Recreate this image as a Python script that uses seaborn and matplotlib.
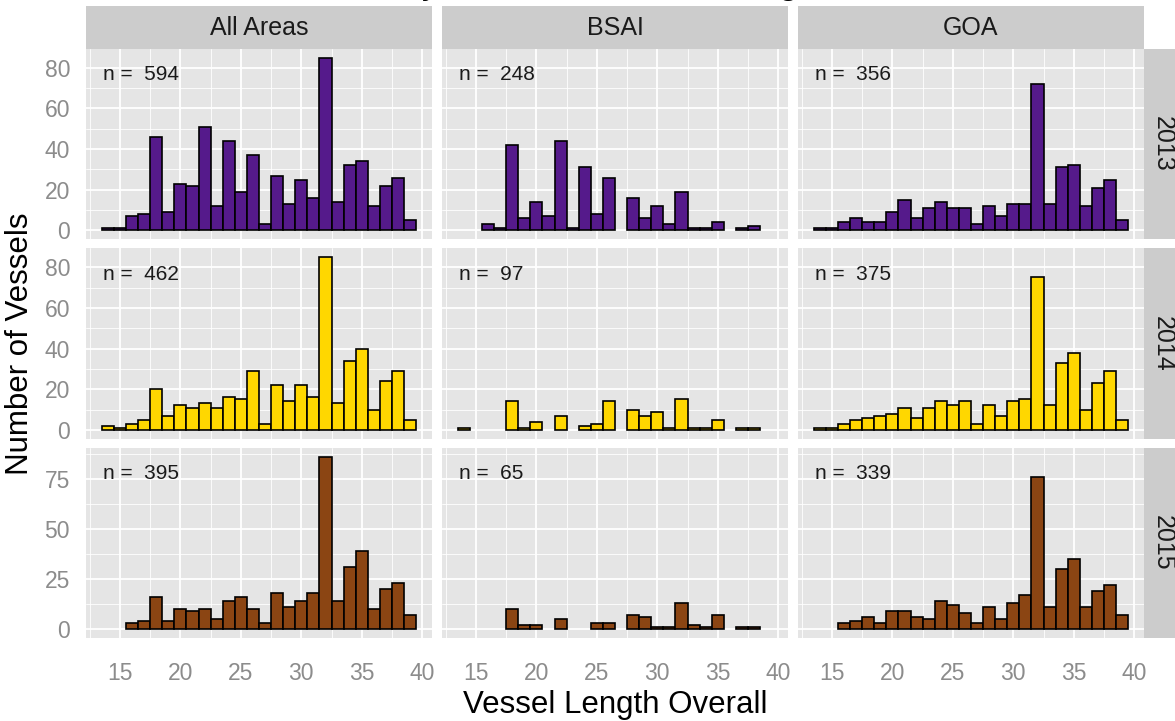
import matplotlib
matplotlib.use("Agg")
import matplotlib.pyplot as plt
from matplotlib.patches import Rectangle
from matplotlib.ticker import FixedLocator
import numpy as np
import pandas as pd
import seaborn as sns

# ---------------- data ----------------
lengths = list(range(14, 40))          # bin centres (ft), bin width 1
years = ["2013", "2014", "2015"]
areas = ["All Areas", "BSAI", "GOA"]

all_2013 = [1, 1, 7, 8, 46, 9, 23, 22, 51, 12, 44, 19, 37, 3, 27, 13, 25, 16, 85, 14, 32, 34, 12, 22, 26, 5]
bsai_2013 = [0, 0, 3, 1, 42, 6, 14, 7, 44, 1, 31, 8, 26, 0, 16, 6, 12, 3, 19, 1, 1, 4, 0, 1, 2, 0]
goa_2013 = [1, 1, 4, 6, 4, 4, 9, 15, 6, 11, 14, 11, 11, 3, 12, 7, 13, 13, 72, 13, 31, 32, 12, 21, 25, 5]

all_2014 = [2, 1, 3, 5, 20, 7, 12, 11, 13, 11, 16, 15, 29, 3, 22, 14, 22, 16, 85, 13, 34, 40, 10, 24, 29, 5]
bsai_2014 = [1, 0, 0, 0, 14, 1, 4, 0, 7, 0, 2, 3, 14, 0, 10, 7, 9, 1, 15, 1, 1, 5, 0, 1, 1, 0]
goa_2014 = [1, 1, 3, 5, 6, 7, 8, 11, 6, 11, 14, 12, 14, 3, 12, 7, 14, 15, 75, 12, 33, 38, 10, 23, 29, 5]

all_2015 = [0, 0, 3, 4, 16, 4, 10, 9, 10, 5, 14, 16, 10, 3, 18, 11, 14, 18, 86, 14, 31, 39, 10, 20, 23, 7]
bsai_2015 = [0, 0, 0, 0, 10, 2, 2, 0, 5, 0, 0, 3, 3, 0, 7, 6, 1, 1, 13, 2, 1, 7, 0, 1, 1, 0]
goa_2015 = [0, 0, 3, 4, 6, 3, 9, 9, 6, 5, 14, 12, 8, 3, 11, 5, 13, 17, 76, 11, 30, 35, 11, 19, 22, 7]

fill_colours = {"2013": "#551A8B", "2014": "#FFD700", "2015": "#8B4513"}
x_ticks = [15, 20, 25, 30, 35, 40]
y_ticks = {"2013": [0, 20, 40, 60, 80], "2014": [0, 20, 40, 60, 80], "2015": [0, 25, 50, 75]}

series = {
    ("2013", "All Areas"): all_2013, ("2013", "BSAI"): bsai_2013, ("2013", "GOA"): goa_2013,
    ("2014", "All Areas"): all_2014, ("2014", "BSAI"): bsai_2014, ("2014", "GOA"): goa_2014,
    ("2015", "All Areas"): all_2015, ("2015", "BSAI"): bsai_2015, ("2015", "GOA"): goa_2015,
}
rows = []
for (yr, ar), vals in series.items():
    for L, v in zip(lengths, vals):
        rows.append({"year": yr, "area": ar, "length": L, "vessels": v})
df = pd.DataFrame(rows)
plot_df = df[df["vessels"] > 0]

# ---------------- style ----------------
sns.set_theme(style="darkgrid")
plt.rcParams["font.family"] = ["Liberation Sans", "DejaVu Sans"]
plt.rcParams["axes.facecolor"] = "#E5E5E5"
plt.rcParams["figure.facecolor"] = "white"

W, H = 1175, 721
g = sns.FacetGrid(plot_df, row="year", col="area", row_order=years, col_order=areas,
                  sharex=True, sharey="row", despine=False, height=1.9, aspect=346 / 190)


def draw_hist(data, color=None, **kws):
    ax = plt.gca()
    yr = data["year"].iloc[0]
    sns.histplot(data=data, x="length", weights="vessels", discrete=True,
                 color=fill_colours[yr], edgecolor="black", linewidth=1.2,
                 alpha=1, ax=ax)
    # bins with no vessels are not drawn
    for p in list(ax.patches):
        if p.get_height() == 0:
            p.remove()


g.map_dataframe(draw_hist)
g.set_axis_labels("", "")
g.set_titles("")

fig = g.figure
fig.set_size_inches(W / 100, H / 100)
fig.subplots_adjust(left=86 / W, right=1144 / W, bottom=1 - 638 / H, top=1 - 49 / H,
                    wspace=10 / 346, hspace=9.4 / 190)

tick_col = "#8C8C8C"
xmin, xmax = lengths[0] - 0.5, lengths[-1] + 0.5
xpad = 0.05 * (xmax - xmin)
for i, yr in enumerate(years):
    row_max = max(max(series[(yr, a)]) for a in areas)
    for j, ar in enumerate(areas):
        ax = g.axes[i, j]
        ax.set_facecolor("#E5E5E5")
        for s in ax.spines.values():
            s.set_visible(False)
        ax.set_xlim(xmin - xpad, xmax + xpad)
        ax.set_ylim(-0.05 * row_max, 1.05 * row_max)
        ax.xaxis.set_major_locator(FixedLocator(x_ticks))
        ax.xaxis.set_minor_locator(FixedLocator([t - 2.5 for t in x_ticks]))
        yt = y_ticks[yr]
        step = yt[1] - yt[0]
        ax.yaxis.set_major_locator(FixedLocator(yt))
        ax.yaxis.set_minor_locator(FixedLocator([t + step / 2 for t in yt]))
        ax.grid(which="major", color="white", linewidth=1.3)
        ax.grid(which="minor", color="white", linewidth=0.6)
        ax.set_axisbelow(True)
        ax.tick_params(which="minor", length=0)
        ax.tick_params(which="major", length=6.5, width=1.1, color=tick_col,
                       labelcolor=tick_col, labelsize=16.5)
        ax.tick_params(axis="x", pad=11)
        ax.tick_params(axis="y", pad=5)
        if j > 0:
            ax.tick_params(axis="y", length=0, labelleft=False)
        else:
            ax.set_yticklabels([str(t) for t in yt])
        if i < len(years) - 1:
            ax.tick_params(axis="x", length=0, labelbottom=False)
        else:
            ax.tick_params(axis="x", labelbottom=True)
            ax.set_xticklabels([str(t) for t in x_ticks])
        ax.set_xlabel("")
        ax.set_ylabel("")
        n = sum(series[(yr, ar)])
        ax.text(13.6, 0.9 * row_max, f"n =  {n}", ha="left", va="center",
                fontsize=15, color="#1A1A1A")
        # top strips
        if i == 0:
            sh = 42.6 / 190
            ax.add_patch(Rectangle((0, 1), 1, sh, transform=ax.transAxes, clip_on=False,
                                   facecolor="#CCCCCC", edgecolor="none"))
            ax.text(0.5, 1 + sh / 2, ar, transform=ax.transAxes, ha="center", va="center",
                    fontsize=18, color="#1A1A1A")
        # right strips
        if j == len(areas) - 1:
            sw = 42 / 346
            ax.add_patch(Rectangle((1, 0), sw, 1, transform=ax.transAxes, clip_on=False,
                                   facecolor="#CCCCCC", edgecolor="none"))
            ax.text(1 + 19 / 346, 0.5, yr, transform=ax.transAxes, ha="center", va="center",
                    rotation=270, fontsize=18, color="#1A1A1A")

fig.text(615 / W, 1 - 705 / H, "Vessel Length Overall", ha="center", va="center",
         fontsize=22.5, color="black")
fig.text(20 / W, 1 - 344 / H, "Number of Vessels", ha="center", va="center",
         rotation=90, fontsize=22.5, color="black")
# the chart title sits mostly above the top edge, as in the source image
fig.text(546 / W, 1 + 7 / H, "Vessels by Year, Area, and Length", ha="center", va="baseline",
         fontsize=27, color="black")

fig.savefig("out.png", dpi=100)
